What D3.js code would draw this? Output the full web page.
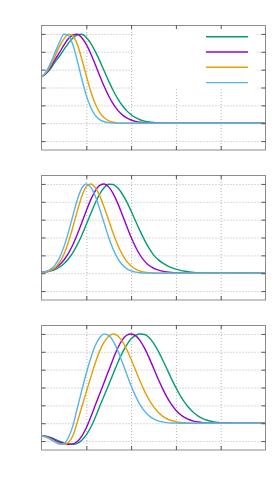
<!DOCTYPE html>
<html>
<head>
<meta charset="utf-8">
<script src="https://cdn.jsdelivr.net/npm/d3@7"></script>
<style>
  body { margin: 0; background: #fff; }
  svg { display: block; }
</style>
</head>
<body>
<div class="container"></div>
<script>
// overall size and frame placement
const width = 279;
const height = 500;
const margin = { left: 41.5, right: 13.5 };
const panelTop = [25, 175, 325];
const panelH = 125;

// axis ticks (no labels in the picture)
const xTicks = [0, 1, 2, 3, 4, 5];
const yTicks = [-0.2, 0, 0.2, 0.4, 0.6, 0.8, 1.0];

// series colours: green, purple, orange, cyan (drawn in that order)
const colors = ["#009e73", "#9400d3", "#e69f00", "#56b4e9"];

// ---- panel 1 ----
const xs1 = [0,0.1,0.2,0.3,0.4,0.5,0.6,0.7,0.8,0.9,1,1.1,1.2,1.3,1.4,1.5,1.6,1.7,1.8,1.9,2,2.1,2.2,2.3,2.4,2.5,2.6,2.7,2.8,2.9,3,5];
const green1 = [0.520,0.555,0.610,0.685,0.750,0.825,0.895,0.955,0.990,0.996,0.961,0.895,0.804,0.698,0.584,0.471,0.367,0.276,0.201,0.141,0.095,0.062,0.039,0.024,0.014,0.008,0.004,0.002,0.001,0,0,0];
const purple1 = [0.520,0.560,0.625,0.710,0.790,0.875,0.945,0.988,0.997,0.958,0.883,0.778,0.657,0.531,0.411,0.305,0.216,0.147,0.096,0.060,0.036,0.020,0.011,0.006,0.003,0.001,0,0,0,0,0,0];
const orange1 = [0.520,0.565,0.645,0.750,0.860,0.945,0.996,0.980,0.883,0.719,0.531,0.356,0.217,0.119,0.060,0.027,0.011,0.004,0.001,0,0,0,0,0,0,0,0,0,0,0,0,0];
const cyan1 = [0.520,0.575,0.670,0.790,0.905,0.997,0.982,0.879,0.698,0.495,0.312,0.176,0.088,0.040,0.016,0.006,0.002,0.001,0,0,0,0,0,0,0,0,0,0,0,0,0,0];

// ---- panel 2 ----
const xs2 = [0,0.1,0.2,0.3,0.4,0.5,0.6,0.7,0.8,0.9,1,1.1,1.2,1.3,1.4,1.5,1.6,1.7,1.8,1.9,2,2.1,2.2,2.3,2.4,2.5,2.6,2.7,2.8,2.9,3,3.1,3.2,3.3,3.4,3.5,3.6,3.7,3.8,3.9,5];
const green2 = [0.007,0.013,0.024,0.041,0.067,0.105,0.159,0.230,0.320,0.426,0.545,0.668,0.786,0.887,0.960,0.997,0.994,0.957,0.890,0.801,0.696,0.584,0.474,0.371,0.281,0.206,0.155,0.115,0.085,0.062,0.045,0.032,0.022,0.015,0.009,0.005,0.003,0.001,0,0,0];
const purple2 = [0.009,0.018,0.032,0.056,0.093,0.148,0.223,0.319,0.436,0.566,0.700,0.824,0.923,0.984,0.999,0.967,0.892,0.785,0.659,0.528,0.403,0.294,0.204,0.135,0.086,0.058,0.038,0.024,0.015,0.009,0.005,0.003,0.001,0,0,0,0,0,0,0,0];
const orange2 = [0.005,0.012,0.029,0.061,0.120,0.213,0.347,0.515,0.698,0.862,0.971,0.999,0.958,0.866,0.737,0.592,0.447,0.319,0.214,0.135,0.081,0.045,0.024,0.012,0.006,0.003,0.001,0,0,0,0,0,0,0,0,0,0,0,0,0,0];
const cyan2 = [0.008,0.019,0.044,0.091,0.172,0.295,0.458,0.644,0.823,0.952,1.000,0.964,0.864,0.720,0.558,0.401,0.268,0.167,0.097,0.052,0.026,0.012,0.005,0.002,0.001,0,0,0,0,0,0,0,0,0,0,0,0,0,0,0,0];

// ---- panel 3 ----
const xs3 = [0,0.1,0.2,0.3,0.4,0.5,0.6,0.7,0.8,0.9,1,1.1,1.2,1.3,1.4,1.5,1.6,1.7,1.8,1.9,2,2.1,2.2,2.3,2.4,2.5,2.6,2.7,2.8,2.9,3,3.1,3.2,3.3,3.4,3.5,3.6,3.7,3.8,3.9,4,4.1,4.2,4.3,4.4,4.5,5];
const green3 = [-0.140,-0.146,-0.160,-0.180,-0.202,-0.220,-0.232,-0.235,-0.225,-0.190,-0.130,-0.045,0.065,0.190,0.310,0.430,0.555,0.675,0.785,0.875,0.945,0.985,0.999,0.994,0.960,0.898,0.813,0.714,0.607,0.499,0.398,0.307,0.230,0.167,0.117,0.079,0.052,0.033,0.021,0.012,0.007,0.004,0.002,0.001,0,0,0];
const purple3 = [-0.140,-0.148,-0.165,-0.190,-0.212,-0.228,-0.235,-0.232,-0.205,-0.145,-0.050,0.070,0.200,0.330,0.460,0.590,0.720,0.840,0.930,0.985,1.000,0.981,0.926,0.841,0.735,0.618,0.500,0.390,0.292,0.211,0.146,0.098,0.063,0.039,0.023,0.013,0.007,0.004,0.002,0.001,0,0,0,0,0,0,0];
const orange3 = [-0.140,-0.152,-0.175,-0.205,-0.228,-0.237,-0.215,-0.140,0.015,0.185,0.350,0.515,0.675,0.810,0.910,0.975,0.999,0.979,0.920,0.829,0.717,0.594,0.472,0.360,0.264,0.185,0.125,0.080,0.050,0.030,0.017,0.009,0.005,0.002,0,0,0,0,0,0,0,0,0,0,0,0,0];
const cyan3 = [-0.140,-0.155,-0.180,-0.210,-0.233,-0.228,-0.160,-0.030,0.170,0.370,0.560,0.730,0.870,0.960,0.998,0.984,0.920,0.817,0.689,0.551,0.419,0.303,0.208,0.135,0.084,0.049,0.027,0.015,0.007,0.003,0.001,0,0,0,0,0,0,0,0,0,0,0,0,0,0,0,0];

const panels = [
  { xs: xs1, series: [green1, purple1, orange1, cyan1], key: true },
  { xs: xs2, series: [green2, purple2, orange2, cyan2], key: false },
  { xs: xs3, series: [green3, purple3, orange3, cyan3], key: false }
];

const svg = d3.select(".container")
  .append("svg")
  .attr("width", width)
  .attr("height", height);

const x = d3.scaleLinear()
  .domain([0, 5])
  .range([margin.left, width - margin.right]);

panels.forEach((p, i) => {
  const top = panelTop[i];
  const y = d3.scaleLinear()
    .domain([-0.3, 1.1])
    .range([top + panelH, top]);

  const g = svg.append("g");

  // dotted grid
  g.append("g")
    .attr("transform", `translate(0, ${top + panelH})`)
    .call(d3.axisBottom(x).tickValues(xTicks.slice(1, -1)).tickSize(-panelH).tickFormat(""))
    .call(a => a.select(".domain").remove())
    .selectAll("line")
    .attr("stroke", "#b4b4b4")
    .attr("stroke-dasharray", "1,2");

  g.append("g")
    .attr("transform", `translate(${margin.left}, 0)`)
    .call(d3.axisLeft(y).tickValues(yTicks).tickSize(-(width - margin.left - margin.right)).tickFormat(""))
    .call(a => a.select(".domain").remove())
    .selectAll("line")
    .attr("stroke", "#b4b4b4")
    .attr("stroke-dasharray", "1,2");

  // opaque key box in the first panel
  if (p.key) {
    g.append("rect")
      .attr("x", 135)
      .attr("y", top + 1)
      .attr("width", 121)
      .attr("height", 63)
      .attr("fill", "#fff");
  }

  // curves
  const line = d3.line()
    .x((d, j) => x(p.xs[j]))
    .y(d => y(d))
    .curve(d3.curveMonotoneX);

  g.selectAll(".curve")
    .data(p.series)
    .join("path")
    .attr("class", "curve")
    .attr("d", line)
    .attr("fill", "none")
    .attr("stroke", (d, k) => colors[k])
    .attr("stroke-width", 1.4);

  // key samples (no titles visible)
  if (p.key) {
    g.selectAll(".keyline")
      .data(colors)
      .join("line")
      .attr("class", "keyline")
      .attr("x1", 206)
      .attr("x2", 248)
      .attr("y1", (d, k) => top + 11.7 + k * 15.3)
      .attr("y2", (d, k) => top + 11.7 + k * 15.3)
      .attr("stroke", d => d)
      .attr("stroke-width", 1.4);
  }

  // frame
  g.append("rect")
    .attr("x", margin.left)
    .attr("y", top + 0.5)
    .attr("width", width - margin.left - margin.right)
    .attr("height", panelH - 0.5)
    .attr("fill", "none")
    .attr("stroke", "#8c8c8c")
    .attr("stroke-width", 1);

  // inward ticks on all four sides
  const tickStyle = a => {
    a.select(".domain").remove();
    a.selectAll("line").attr("stroke", "#555");
  };
  g.append("g")
    .attr("transform", `translate(${margin.left}, 0)`)
    .call(d3.axisLeft(y).tickValues(yTicks).tickSize(-4).tickFormat(""))
    .call(tickStyle);
  g.append("g")
    .attr("transform", `translate(${width - margin.right}, 0)`)
    .call(d3.axisRight(y).tickValues(yTicks).tickSize(-4).tickFormat(""))
    .call(tickStyle);
  g.append("g")
    .attr("transform", `translate(0, ${top + panelH})`)
    .call(d3.axisBottom(x).tickValues(xTicks.slice(1, -1)).tickSize(-4).tickFormat(""))
    .call(tickStyle);
  g.append("g")
    .attr("transform", `translate(0, ${top})`)
    .call(d3.axisTop(x).tickValues(xTicks.slice(1, -1)).tickSize(-4).tickFormat(""))
    .call(tickStyle);
});
</script>
</body>
</html>
